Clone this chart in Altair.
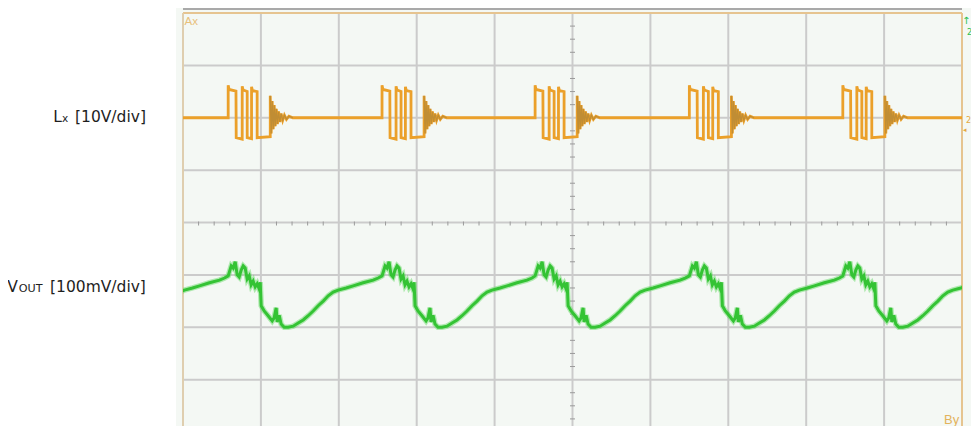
import altair as alt
import pandas as pd

# ---- data (in oscilloscope divisions) ----
GRID_X = [0, 1, 2, 3, 4, 5, 6, 7, 8, 9, 10]
GRID_Y = [0, 1, 2, 3, 4, 5, 6, 7, 8]
MINOR_X = [k / 5 for k in range(1, 50) if k % 5]
MINOR_Y = [k / 4 for k in range(1, 32) if k % 4]

BURSTS = [0.58, 2.555, 4.52, 6.50, 8.47]
PERIOD = 1.973

LX_DT = [0.000, 0.000, 0.012, 0.100, 0.103, 0.180, 0.180, 0.192, 0.244, 0.244,
         0.300, 0.300, 0.312, 0.372, 0.372, 0.540, 0.540, 0.552, 0.565, 0.578,
         0.591, 0.604, 0.618, 0.632, 0.647, 0.663, 0.680, 0.700, 0.722, 0.748,
         0.780, 0.830]
LX_V = [6.00, 6.62, 6.54, 6.51, 5.62, 5.59, 6.60, 6.53, 6.50, 5.62,
        5.60, 6.59, 6.52, 6.50, 5.62, 5.64, 6.42, 5.70, 6.32, 5.78,
        6.24, 5.84, 6.17, 5.88, 6.12, 5.92, 6.08, 5.95, 6.05, 5.97,
        6.03, 6.00]
RING_FROM = 16  # index in the Lx template where the ringing starts

VO_DT = [0.000, 0.039, 0.064, 0.090, 0.116, 0.141, 0.167, 0.193, 0.218, 0.244,
         0.270, 0.295, 0.321, 0.347, 0.372, 0.398, 0.411, 0.424, 0.462, 0.513,
         0.565, 0.590, 0.616, 0.629, 0.655, 0.680, 0.719, 0.770, 0.834, 0.899,
         0.963, 1.027, 1.091, 1.155, 1.220, 1.284, 1.348, 1.412, 1.515, 1.605,
         1.733, 1.861, 1.926]
VO_V = [2.98, 3.17, 3.13, 3.25, 3.00, 2.96, 3.09, 3.17, 3.13, 2.92,
        2.98, 2.81, 2.88, 2.77, 2.83, 2.73, 2.86, 2.41, 2.31, 2.22,
        2.12, 2.18, 2.37, 2.10, 2.23, 2.06, 2.00, 2.00, 2.02, 2.08,
        2.14, 2.22, 2.31, 2.41, 2.50, 2.60, 2.67, 2.71, 2.75, 2.79,
        2.85, 2.90, 2.94]

# ---- build trace tables ----
lx_rows = [(0.0, 6.0, -1)]
for n, b in enumerate(BURSTS):
    lx_rows += [(b + dt, v, n if k >= RING_FROM else -1)
                for k, (dt, v) in enumerate(zip(LX_DT, LX_V))]
lx_rows.append((10.0, 6.0, -1))
lx = pd.DataFrame(lx_rows, columns=["t", "v", "ring"])
lx["i"] = range(len(lx))
ring = lx[lx["ring"] >= 0]

vo_rows = []
for b in [BURSTS[0] - PERIOD] + BURSTS:
    vo_rows += [(b + dt, v) for dt, v in zip(VO_DT, VO_V)]
vo_rows.append((BURSTS[-1] + PERIOD, VO_V[0]))
vo = pd.DataFrame(vo_rows, columns=["t", "v"])
vo["i"] = range(len(vo))

# the page window is 434 px tall: the bottom strip of the screen is cut off
W, H = 779, 413
DIV_PX = 419 / 8
Y_LOW = 8 - H / DIV_PX
xs = alt.Scale(domain=[0, 10], nice=False, zero=False)
ys = alt.Scale(domain=[Y_LOW, 8], nice=False, zero=False)
one = pd.DataFrame({"a": [0]})
CY = 4 * DIV_PX  # pixel row of the horizontal centre line

bg = alt.Chart(one).mark_rect(color="#F4F8F4").encode(
    x=alt.value(-7), x2=alt.value(796), y=alt.value(-6), y2=alt.value(H + 10))

gx = alt.Chart(pd.DataFrame({"g": GRID_X})).mark_rule(color="#CBCBCB", strokeWidth=2).encode(
    x=alt.X("g:Q", scale=xs, axis=None))
gy = alt.Chart(pd.DataFrame({"g": GRID_Y})).mark_rule(color="#CBCBCB", strokeWidth=2).encode(
    y=alt.Y("g:Q", scale=ys, axis=None))

mx = alt.Chart(pd.DataFrame({"m": MINOR_X})).mark_rule(color="#9A9A9A", strokeWidth=1).encode(
    x=alt.X("m:Q", scale=xs, axis=None), y=alt.value(CY - 1), y2=alt.value(CY + 3))
my = alt.Chart(pd.DataFrame({"m": MINOR_Y})).mark_rule(color="#9A9A9A", strokeWidth=1).encode(
    y=alt.Y("m:Q", scale=ys, axis=None), x=alt.value(W / 2 - 2.5), x2=alt.value(W / 2 + 2.5))

top_gray = alt.Chart(one).mark_rule(color="#A9A9A9", strokeWidth=2).encode(
    x=alt.value(0), x2=alt.value(W), y=alt.value(-4))
frame_top = alt.Chart(one).mark_rule(color="#EFC27C", strokeWidth=1.5).encode(
    x=alt.value(0), x2=alt.value(W), y=alt.value(0))
frame_l = alt.Chart(one).mark_rule(color="#E6CFA6", strokeWidth=1.5).encode(
    x=alt.value(0), y=alt.value(0), y2=alt.value(H + 10))
frame_r = alt.Chart(one).mark_rule(color="#EFC27C", strokeWidth=1.5).encode(
    x=alt.value(W), y=alt.value(0), y2=alt.value(H + 10))

enc_x = alt.X("t:Q", scale=xs, axis=None)
enc_y = alt.Y("v:Q", scale=ys, axis=None)

lx_line = alt.Chart(lx).mark_line(color="#EBA02A", strokeWidth=2.8, clip=True,
                                  strokeJoin="miter").encode(
    x=enc_x, y=enc_y, order="i:Q")
ring_line = alt.Chart(ring).mark_line(color="#B98A36", strokeWidth=1.3, clip=True,
                                      opacity=0.85).encode(
    x=enc_x, y=enc_y, detail="ring:N", order="i:Q")
vo_halo = alt.Chart(vo).mark_line(color="#5BD85B", strokeWidth=5.5, clip=True,
                                  opacity=0.45).encode(
    x=enc_x, y=enc_y, order="i:Q")
vo_line = alt.Chart(vo).mark_line(color="#34C334", strokeWidth=3, clip=True).encode(
    x=enc_x, y=enc_y, order="i:Q")

FONT = "DejaVu Sans"
TXT = "#1E1E1E"
def label(text, x, y, size, color=TXT, font=FONT):
    return alt.Chart(one).mark_text(text=text, align="left", baseline="alphabetic",
                                    font=font, fontSize=size, color=color).encode(
        x=alt.value(x), y=alt.value(y))

labels = [
    label("L", -129.7, 108.7, 15.5),
    label("x", -121.0, 108.7, 10.5),
    label("[10V/div]", -108.0, 108.7, 15.5),
    label("V", -175.7, 278.7, 15.5),
    label("OUT", -164.2, 278.7, 11.2),
    label("[100mV/div]", -133.0, 278.7, 15.5),
    label("Ax", 1.5, 12, 11.5, "#E8C07A", "Liberation Sans"),
    label("By", 761, 411, 13, "#E3B35C", "Liberation Sans"),
    label("↑", 779, 11, 10, "#2DBE4E"),
    label("2", 784, 22, 8, "#2DBE4E"),
    label("2", 783, 110, 8, "#E3A940"),
    label("◂", 780, 119, 7, "#E3A940"),
]

chart = alt.layer(bg, gx, gy, mx, my, top_gray, frame_top, frame_l, frame_r,
                  vo_halo, vo_line, lx_line, ring_line, *labels).properties(
    width=W, height=H,
    autosize=alt.AutoSizeParams(type="none"),
    padding={"left": 175, "top": 5, "right": 9, "bottom": 0},
    background="white",
).configure_view(strokeWidth=0)

chart.save("out.html", embed_options={"renderer": "svg", "actions": False})
